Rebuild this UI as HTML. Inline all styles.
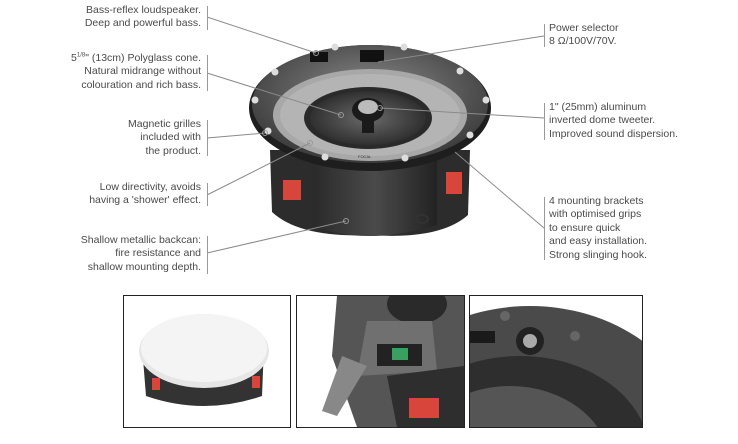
<!DOCTYPE html>
<html style="overflow:hidden"><head><style>
html,body{margin:0;width:738px;height:444px;overflow:hidden;}
body{background:#fff;position:relative;font-family:"Liberation Sans",sans-serif;}
.t{position:absolute;font-size:10.5px;line-height:13.4px;color:#4a4a4a;}
.l{text-align:right;}
.bar{position:absolute;width:1px;background:#999;}
.box{position:absolute;border:1px solid #222;overflow:hidden;background:#fff;}
</style></head><body>
<svg width="738" height="444" style="position:absolute;left:0;top:0">
<defs>
<radialGradient id="rim" cx="50%" cy="40%" r="60%"><stop offset="0" stop-color="#8a8a8a"/><stop offset="1" stop-color="#3a3a3a"/></radialGradient>
<radialGradient id="cone" cx="50%" cy="50%" r="55%"><stop offset="0" stop-color="#6a6a6a"/><stop offset="1" stop-color="#2a2a2a"/></radialGradient>
<linearGradient id="can" x1="0" x2="1"><stop offset="0" stop-color="#2a2a2a"/><stop offset="0.5" stop-color="#4a4a4a"/><stop offset="1" stop-color="#222"/></linearGradient>
</defs>
<path d="M270 150 L470 150 L468 215 Q440 240 370 235 Q300 238 272 212 Z" fill="#2c2c2c"/>
<path d="M313 160 L437 160 L437 225 Q400 236 370 236 Q335 236 313 225 Z" fill="url(#can)"/>
<rect x="283" y="180" width="18" height="20" fill="#d8453a"/>
<rect x="446" y="172" width="16" height="22" fill="#d8453a"/>
<ellipse cx="422" cy="219" rx="6" ry="4" fill="none" stroke="#333" stroke-width="2"/>
<ellipse cx="370" cy="108" rx="121" ry="63" fill="#1e1e1e"/>
<ellipse cx="370" cy="104" rx="118" ry="59" fill="url(#rim)"/>
<ellipse cx="370" cy="115" rx="97" ry="46" fill="#a8a8a8"/>
<ellipse cx="370" cy="115" rx="90" ry="41" fill="#b4b4b4"/>
<ellipse cx="368" cy="118" rx="64" ry="31" fill="#2a2a2a"/>
<ellipse cx="368" cy="118" rx="58" ry="27" fill="url(#cone)"/>
<ellipse cx="368" cy="110" rx="16" ry="12" fill="#1a1a1a"/>
<ellipse cx="368" cy="107" rx="10" ry="7" fill="#bbb"/>
<rect x="362" y="115" width="12" height="18" fill="#1a1a1a"/>
<rect x="310" y="52" width="18" height="10" fill="#111"/>
<rect x="360" y="50" width="24" height="12" fill="#111"/>
<g fill="#ddd">
<circle cx="335" cy="47" r="3.5"/><circle cx="404" cy="47" r="3.5"/><circle cx="275" cy="72" r="3.5"/><circle cx="460" cy="71" r="3.5"/><circle cx="255" cy="100" r="3.5"/><circle cx="486" cy="100" r="3.5"/><circle cx="268" cy="131" r="3.5"/><circle cx="470" cy="135" r="3.5"/><circle cx="325" cy="157" r="3.5"/><circle cx="405" cy="158" r="3.5"/>
</g>
<text x="358" y="158" font-size="4" fill="#333" font-family="Liberation Sans">FOCAL</text>
<g stroke="#8a8a8a" stroke-width="1" fill="none">
<line x1="207" y1="17" x2="316" y2="53"/>
<line x1="207" y1="73" x2="341" y2="115"/>
<line x1="207" y1="138" x2="265" y2="133"/>
<line x1="207" y1="195" x2="310" y2="143"/>
<line x1="207" y1="253" x2="346" y2="221"/>
<line x1="544" y1="36" x2="378" y2="62"/>
<line x1="544" y1="118" x2="380" y2="108"/>
<line x1="544" y1="228" x2="455" y2="152"/>
</g>
<g fill="none" stroke="#999" stroke-width="1">
<circle cx="316" cy="53" r="2.5"/><circle cx="341" cy="115" r="2.5"/><circle cx="265" cy="133" r="2.5"/><circle cx="310" cy="143" r="2.5"/><circle cx="346" cy="221" r="2.5"/><circle cx="380" cy="108" r="2.5"/>
</g>
</svg>

<div class="bar" style="left:207px;top:6px;height:24px"></div>
<div class="t l" style="right:537px;top:4px">Bass-reflex loudspeaker.<br>Deep and powerful bass.</div>
<div class="bar" style="left:207px;top:55px;height:36px"></div>
<div class="t l" style="right:537px;top:52px">5<sup style="font-size:6px;line-height:0">1/8</sup>" (13cm) Polyglass cone.<br>Natural midrange without<br>colouration and rich bass.</div>
<div class="bar" style="left:207px;top:120px;height:36px"></div>
<div class="t l" style="right:537px;top:118px">Magnetic grilles<br>included with<br>the product.</div>
<div class="bar" style="left:207px;top:183px;height:23px"></div>
<div class="t l" style="right:537px;top:181px">Low directivity, avoids<br>having a 'shower' effect.</div>
<div class="bar" style="left:207px;top:236px;height:38px"></div>
<div class="t l" style="right:537px;top:234px">Shallow metallic backcan:<br>fire resistance and<br>shallow mounting depth.</div>

<div class="bar" style="left:544px;top:24px;height:23px"></div>
<div class="t" style="left:549px;top:22px">Power selector<br>8 Ω/100V/70V.</div>
<div class="bar" style="left:544px;top:103px;height:37px"></div>
<div class="t" style="left:549px;top:101px">1" (25mm) aluminum<br>inverted dome tweeter.<br>Improved sound dispersion.</div>
<div class="bar" style="left:544px;top:197px;height:63px"></div>
<div class="t" style="left:549px;top:195px">4 mounting brackets<br>with optimised grips<br>to ensure quick<br>and easy installation.<br>Strong slinging hook.</div>

<div class="box" style="left:123px;top:295px;width:166px;height:131px">
<svg width="166" height="131">
<path d="M18 50 L140 50 L138 100 Q80 120 22 100 Z" fill="#333"/>
<rect x="28" y="82" width="8" height="12" fill="#d8453a"/><rect x="128" y="80" width="8" height="12" fill="#d8453a"/>
<ellipse cx="80" cy="55" rx="65" ry="37" fill="#e6e6e6"/>
<ellipse cx="80" cy="52" rx="63" ry="34" fill="#f4f4f4"/>
</svg></div>
<div class="box" style="left:296px;top:295px;width:167px;height:131px">
<svg width="167" height="131">
<path d="M40 0 L167 0 L167 131 L60 131 L35 60 Z" fill="#555"/>
<ellipse cx="120" cy="8" rx="30" ry="20" fill="#2a2a2a"/>
<path d="M70 25 L135 25 L140 75 L60 80 Z" fill="#707070"/>
<rect x="80" y="48" width="45" height="22" fill="#222"/>
<rect x="95" y="52" width="16" height="12" fill="#3aa060"/>
<path d="M45 60 L70 70 L40 120 L25 115 Z" fill="#888"/>
<path d="M90 80 L167 70 L167 131 L100 131 Z" fill="#2e2e2e"/>
<rect x="112" y="102" width="30" height="20" fill="#d8453a"/>
</svg></div>
<div class="box" style="left:469px;top:295px;width:172px;height:131px">
<svg width="172" height="131">
<ellipse cx="60" cy="150" rx="170" ry="140" fill="#4a4a4a"/>
<ellipse cx="50" cy="160" rx="130" ry="100" fill="#2e2e2e"/>
<ellipse cx="40" cy="170" rx="100" ry="80" fill="#555"/>
<circle cx="60" cy="45" r="14" fill="#222"/><circle cx="60" cy="45" r="7" fill="#aaa"/>
<rect x="0" y="35" width="25" height="12" fill="#1a1a1a"/>
<circle cx="35" cy="20" r="5" fill="#666"/><circle cx="105" cy="40" r="5" fill="#666"/>
</svg></div>
</body></html>
